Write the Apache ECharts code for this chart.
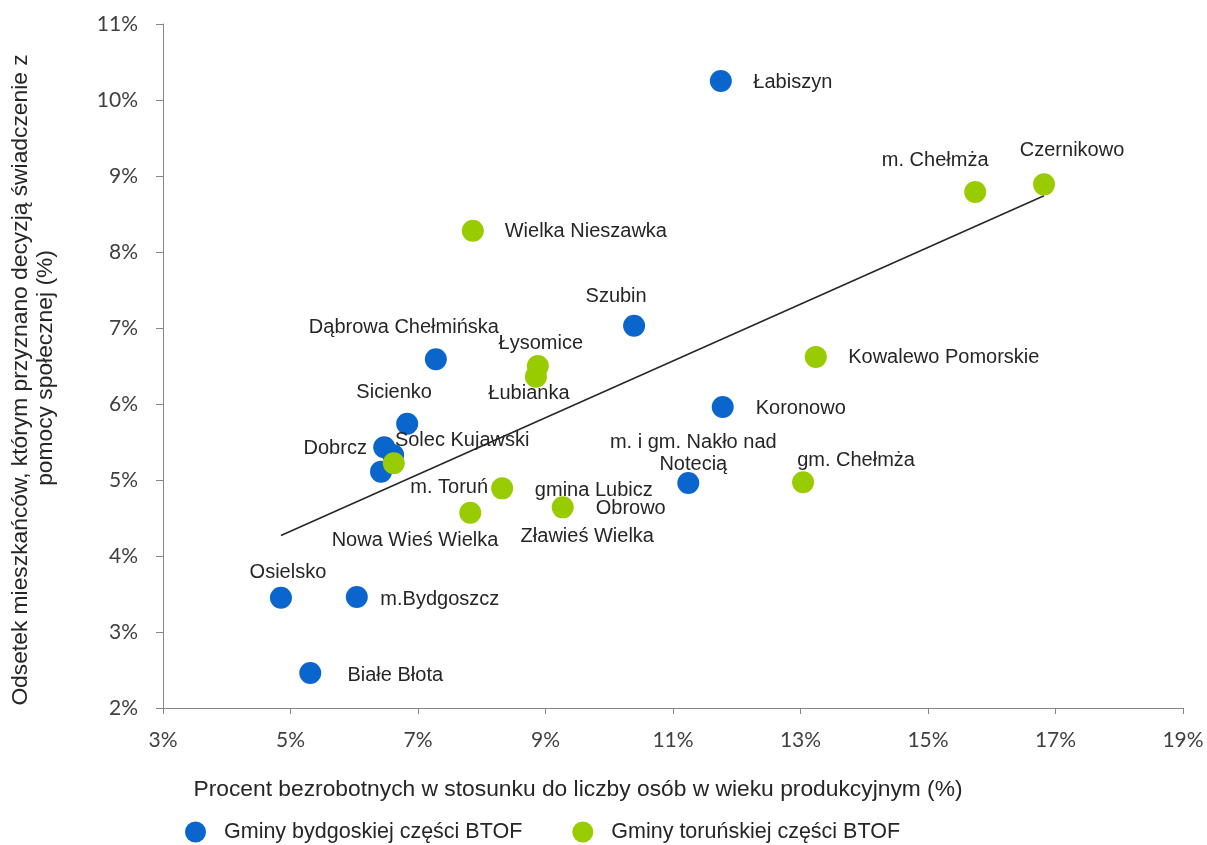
<!DOCTYPE html>
<html>
<head>
<meta charset="utf-8">
<script src="https://cdn.jsdelivr.net/npm/echarts@6/dist/echarts.min.js"></script>
<style>
html,body{margin:0;padding:0;background:#fff;}
#chart{width:1207px;height:845px;}
</style>
</head>
<body>
<div id="chart"></div>
<script>
// Gminy bydgoskiej części BTOF (x: % unemployed, y: % social assistance)
const blueNames = ['Łabiszyn','Szubin','Dąbrowa Chełmińska','Sicienko','Dobrcz','Solec Kujawski','Nowa Wieś Wielka','Koronowo','m. i gm. Nakło nad\nNotecią','Osielsko','m.Bydgoszcz','Białe Błota'];
const blueX = [11.75,10.39,7.28,6.83,6.47,6.61,6.42,11.78,11.24,4.85,6.04,5.31];
const blueY = [10.25,7.03,6.59,5.74,5.43,5.33,5.11,5.96,4.96,3.45,3.46,2.46];

// Gminy toruńskiej części BTOF
const greenNames = ['Czernikowo','m. Chełmża','Wielka Nieszawka','Łysomice','Łubianka','Kowalewo Pomorskie','gm. Chełmża','m. Toruń','Obrowo','gmina Lubicz','Zławieś Wielka'];
const greenX = [16.82,15.74,7.86,8.88,8.85,13.24,13.04,8.32,9.27,6.62,7.82];
const greenY = [8.89,8.79,8.28,6.50,6.36,6.62,4.97,4.89,4.64,5.22,4.57];

// Trend line end points
const trendX = [4.85,16.82];
const trendY = [4.27,8.74];

const xTicks = ['3%','5%','7%','9%','11%','13%','15%','17%','19%'];
const yTicks = ['2%','3%','4%','5%','6%','7%','8%','9%','10%','11%'];

// label placement offsets (styling, px)
const blueOff = [[72,1],[-18,-29],[-32,-32],[-13,-31],[-49,1],[69,-14],[34,69],[78,1],[5,-30],[7,-25],[83,2],[85,2]];
const greenOff = [[28,-34],[-40,-31],[113,1],[3,-23],[-7,17],[128,1],[53,-22],[-53,-1],[68,1],[200,27],[117,24]];

const LBL = 'Liberation Sans, Arial, sans-serif';
const TXT = '#262626';

function build(names, xs, ys, offs){
  return names.map((n,i)=>({
    value:[xs[i],ys[i]], name:n,
    label:{offset:offs[i]}
  }));
}

const chart = echarts.init(document.getElementById('chart'));
chart.setOption({
  animation:false,
  grid:{left:163,right:24,top:24,bottom:137,containLabel:false},
  xAxis:{
    type:'value',min:3,max:19,interval:2,
    axisLine:{show:true,lineStyle:{color:'#868686',width:1}},
    axisTick:{show:true,length:6,lineStyle:{color:'#868686'}},
    splitLine:{show:false},
    axisLabel:{margin:22,fontSize:21,fontFamily:'Lato, Liberation Sans, sans-serif',color:'#404040',
      formatter:(v)=>xTicks[Math.round((v-3)/2)]}
  },
  yAxis:{
    type:'value',min:2,max:11,interval:1,
    axisLine:{show:true,lineStyle:{color:'#868686',width:1}},
    axisTick:{show:true,length:7,lineStyle:{color:'#868686'}},
    splitLine:{show:false},
    axisLabel:{margin:25,fontSize:21,fontFamily:'Lato, Liberation Sans, sans-serif',color:'#404040',
      formatter:(v)=>yTicks[Math.round(v-2)]}
  },
  legend:{
    data:['Gminy bydgoskiej części BTOF','Gminy toruńskiej części BTOF'],
    left:180,top:816,itemWidth:21,itemHeight:21,itemGap:50,icon:'circle',
    textStyle:{fontSize:21.5,fontFamily:LBL,color:TXT,padding:[0,0,0,13]}
  },
  graphic:[
    {type:'text',x:578,y:790,style:{text:'Procent bezrobotnych w stosunku do liczby osób w wieku produkcyjnym (%)',
      textAlign:'center',textVerticalAlign:'middle',fontSize:22.8,fontFamily:LBL,fill:TXT}},
    {type:'text',x:21,y:380,rotation:Math.PI/2,style:{text:'Odsetek mieszkańców, którym przyznano decyzją świadczenie z',
      textAlign:'center',textVerticalAlign:'middle',fontSize:22.8,fontFamily:LBL,fill:TXT}},
    {type:'text',x:46,y:368,rotation:Math.PI/2,style:{text:'pomocy społecznej (%)',
      textAlign:'center',textVerticalAlign:'middle',fontSize:22.8,fontFamily:LBL,fill:TXT}}
  ],
  series:[
    {type:'line',name:'trend',data:trendX.map((x,i)=>[x,trendY[i]]),symbol:'none',
      lineStyle:{color:'#262626',width:1.5},z:1,silent:true},
    {type:'scatter',name:'Gminy bydgoskiej części BTOF',symbolSize:22,z:2,
      itemStyle:{color:'#0A66CC',opacity:1},
      label:{show:true,position:'inside',formatter:'{b}',fontSize:20,fontFamily:LBL,color:TXT,
        align:'center',verticalAlign:'middle',lineHeight:22},
      data:build(blueNames,blueX,blueY,blueOff)},
    {type:'scatter',name:'Gminy toruńskiej części BTOF',symbolSize:22,z:3,
      itemStyle:{color:'#99CC00',opacity:1},
      label:{show:true,position:'inside',formatter:'{b}',fontSize:20,fontFamily:LBL,color:TXT,
        align:'center',verticalAlign:'middle',lineHeight:22},
      data:build(greenNames,greenX,greenY,greenOff)}
  ]
});
</script>
</body>
</html>
